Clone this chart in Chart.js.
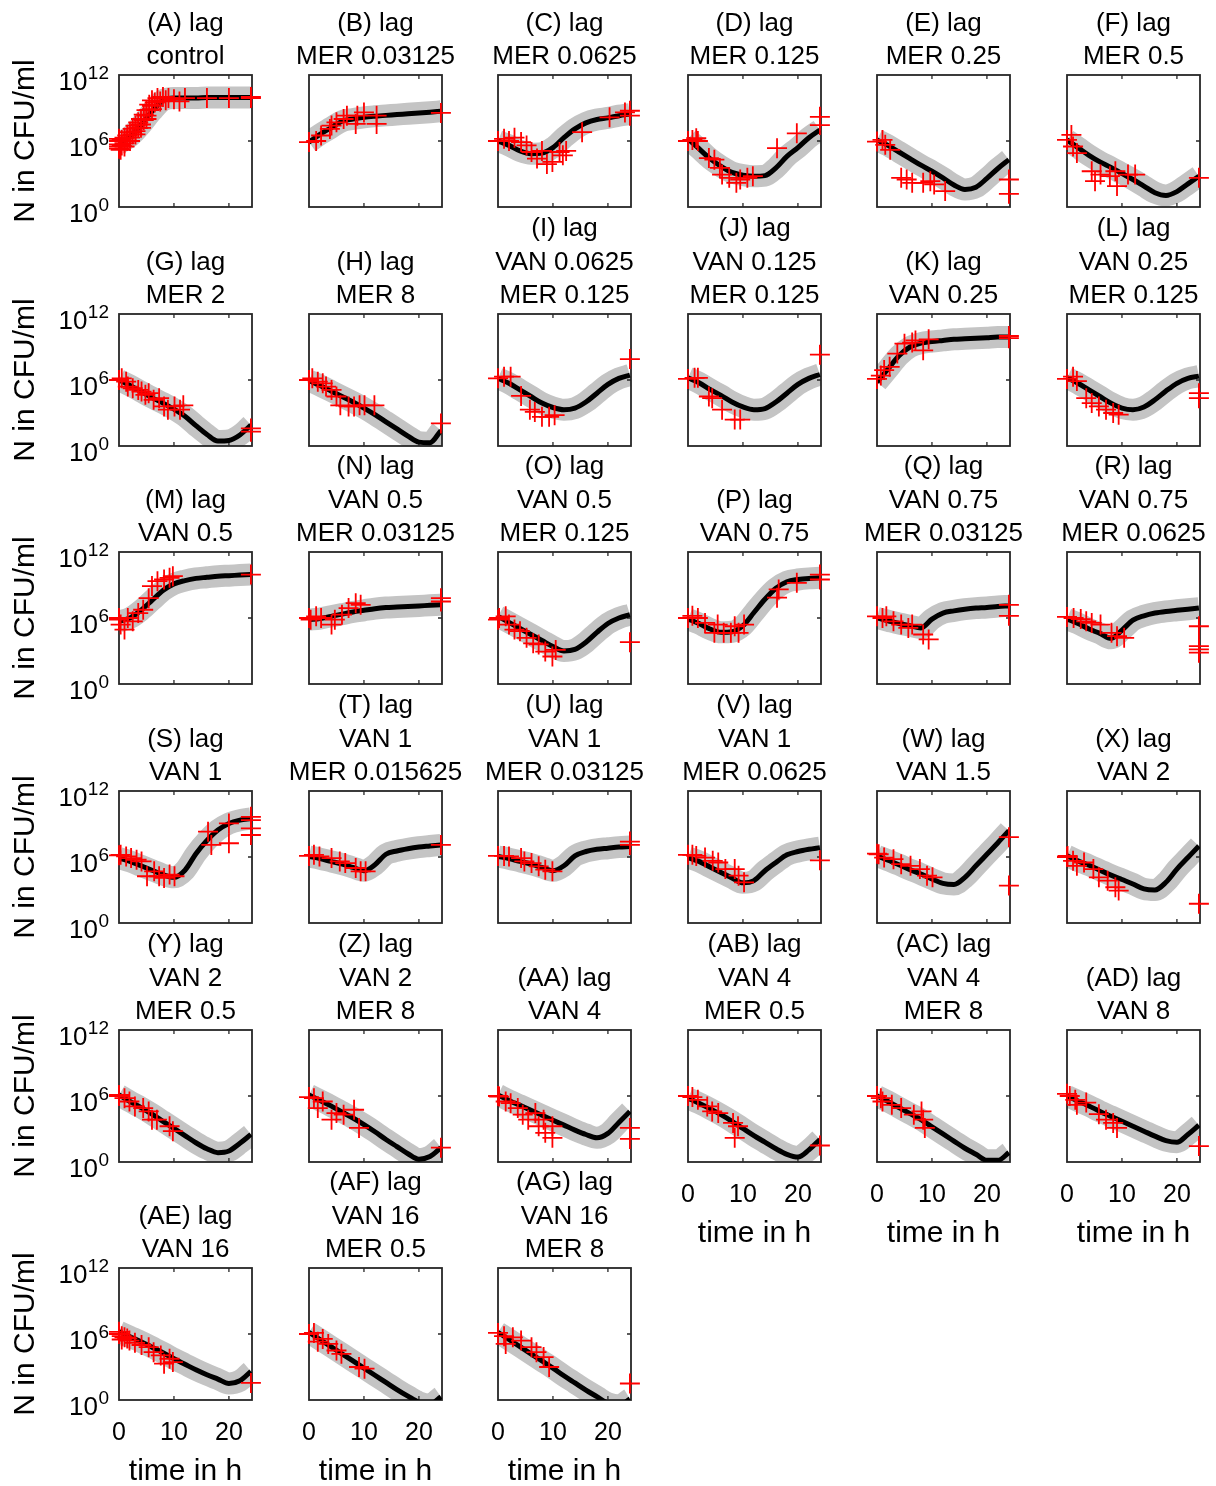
<!DOCTYPE html>
<html>
<head>
<meta charset="utf-8">
<title>lag model fits</title>
<script src="https://cdn.jsdelivr.net/npm/chart.js@4.4.1/dist/chart.umd.min.js"></script>
<style>
  html, body { margin: 0; padding: 0; background: #fff; }
  #grid { position: relative; width: 1216px; height: 1486px; overflow: hidden; background: #fff; }
  #grid canvas { position: absolute; }
</style>
</head>
<body>
<div id="grid"></div>
<script>
// ---- data (log10 of N in CFU/ml) ----
const panelTitles = [
  ['(A) lag', 'control'], ['(B) lag', 'MER 0.03125'], ['(C) lag', 'MER 0.0625'],
  ['(D) lag', 'MER 0.125'], ['(E) lag', 'MER 0.25'], ['(F) lag', 'MER 0.5'],
  ['(G) lag', 'MER 2'], ['(H) lag', 'MER 8'], ['(I) lag', 'VAN 0.0625', 'MER 0.125'],
  ['(J) lag', 'VAN 0.125', 'MER 0.125'], ['(K) lag', 'VAN 0.25'], ['(L) lag', 'VAN 0.25', 'MER 0.125'],
  ['(M) lag', 'VAN 0.5'], ['(N) lag', 'VAN 0.5', 'MER 0.03125'], ['(O) lag', 'VAN 0.5', 'MER 0.125'],
  ['(P) lag', 'VAN 0.75'], ['(Q) lag', 'VAN 0.75', 'MER 0.03125'], ['(R) lag', 'VAN 0.75', 'MER 0.0625'],
  ['(S) lag', 'VAN 1'], ['(T) lag', 'VAN 1', 'MER 0.015625'], ['(U) lag', 'VAN 1', 'MER 0.03125'],
  ['(V) lag', 'VAN 1', 'MER 0.0625'], ['(W) lag', 'VAN 1.5'], ['(X) lag', 'VAN 2'],
  ['(Y) lag', 'VAN 2', 'MER 0.5'], ['(Z) lag', 'VAN 2', 'MER 8'], ['(AA) lag', 'VAN 4'],
  ['(AB) lag', 'VAN 4', 'MER 0.5'], ['(AC) lag', 'VAN 4', 'MER 8'], ['(AD) lag', 'VAN 8'],
  ['(AE) lag', 'VAN 16'], ['(AF) lag', 'VAN 16', 'MER 0.5'], ['(AG) lag', 'VAN 16', 'MER 8']
];

const modelTimes = [0, 2, 4, 6, 8, 10, 12, 14, 16, 18, 20, 22, 24];

// model prediction per panel, at modelTimes
const modelLog10N = [
  [5.8, 6.4, 7.45, 8.7, 9.7, 9.9, 9.9, 9.9, 9.95, 9.95, 9.95, 9.95, 9.95],
  [5.9, 6.6, 7.2, 7.8, 8.0, 8.15, 8.25, 8.33, 8.4, 8.48, 8.55, 8.62, 8.7],
  [6.0, 5.6, 5.1, 4.85, 4.9, 5.4, 6.3, 7.1, 7.65, 7.95, 8.1, 8.3, 8.45],
  [6.2, 5.3, 4.4, 3.7, 3.15, 2.9, 2.8, 2.85, 3.55, 4.6, 5.4, 6.3, 7.0],
  [6.1, 5.6, 5.0, 4.4, 3.8, 3.25, 2.65, 2.0, 1.6, 1.8, 2.6, 3.5, 4.3],
  [6.1, 5.4, 4.7, 4.1, 3.6, 3.05, 2.5, 1.9, 1.3, 1.05, 1.4, 2.1, 2.8],
  [6.0, 5.5, 4.95, 4.4, 3.9, 3.35, 2.7, 1.85, 1.05, 0.45, 0.5, 1.0, 1.9],
  [5.95, 5.5, 5.0, 4.5, 4.0, 3.45, 2.85, 2.2, 1.55, 0.9, 0.35, 0.3, 1.4],
  [6.15, 5.7, 5.1, 4.5, 3.9, 3.5, 3.3, 3.45, 4.0, 4.8, 5.6, 6.15, 6.45],
  [6.2, 5.75, 5.15, 4.6, 4.0, 3.55, 3.3, 3.4, 4.0, 4.8, 5.6, 6.15, 6.5],
  [5.8, 7.0, 8.2, 9.0, 9.35, 9.5, 9.6, 9.7, 9.75, 9.8, 9.85, 9.9, 9.9],
  [6.2, 5.7, 5.1, 4.5, 3.9, 3.45, 3.3, 3.55, 4.2, 5.0, 5.7, 6.15, 6.35],
  [5.7, 6.0, 6.7, 7.6, 8.5, 9.1, 9.4, 9.6, 9.7, 9.8, 9.85, 9.9, 9.95],
  [5.85, 5.95, 6.15, 6.35, 6.55, 6.7, 6.85, 6.95, 7.0, 7.05, 7.1, 7.15, 7.2],
  [6.15, 5.6, 5.05, 4.5, 3.95, 3.4, 3.0, 3.15, 3.8, 4.7, 5.5, 6.0, 6.3],
  [5.9, 5.5, 5.0, 4.7, 4.75, 5.3, 6.5, 7.7, 8.7, 9.3, 9.5, 9.6, 9.65],
  [6.0, 5.75, 5.5, 5.3, 5.1, 5.9, 6.45, 6.65, 6.8, 6.9, 6.95, 7.05, 7.1],
  [5.9, 5.5, 5.0, 4.6, 4.15, 4.9, 5.8, 6.2, 6.45, 6.6, 6.7, 6.8, 6.9],
  [5.9, 5.6, 5.2, 4.8, 4.4, 4.15, 4.8, 6.3, 7.5, 8.45, 9.05, 9.35, 9.5],
  [6.05, 5.85, 5.6, 5.35, 5.05, 4.75, 5.3, 6.25, 6.55, 6.75, 6.9, 7.0, 7.1],
  [6.05, 5.85, 5.6, 5.35, 5.05, 4.75, 5.2, 6.1, 6.5, 6.7, 6.8, 6.9, 6.95],
  [5.95, 5.6, 5.1, 4.6, 4.1, 3.65, 3.85, 4.75, 5.5, 6.2, 6.5, 6.7, 6.85],
  [6.1, 5.7, 5.3, 4.85, 4.45, 4.0, 3.6, 3.5, 4.15, 5.2, 6.25, 7.3, 8.4],
  [6.1, 5.65, 5.25, 4.8, 4.35, 3.95, 3.55, 3.1, 3.0, 3.7, 4.9, 5.95, 7.0],
  [6.1, 5.5, 4.95, 4.35, 3.7, 3.05, 2.4, 1.75, 1.2, 0.85, 1.0, 1.7, 2.5],
  [6.1, 5.6, 5.1, 4.55, 4.0, 3.4, 2.75, 2.05, 1.4, 0.75, 0.25, 0.5, 1.3],
  [6.1, 5.6, 5.15, 4.7, 4.25, 3.8, 3.35, 2.9, 2.5, 2.2, 2.6, 3.6, 4.6],
  [5.8, 5.35, 4.85, 4.3, 3.7, 3.05, 2.4, 1.8, 1.2, 0.7, 0.45, 1.1, 2.05],
  [6.0, 5.5, 4.95, 4.4, 3.85, 3.2, 2.55, 1.9, 1.25, 0.7, 0.15, 0.15, 0.85],
  [6.0, 5.55, 5.1, 4.6, 4.15, 3.7, 3.25, 2.8, 2.35, 1.95, 1.8, 2.5, 3.35],
  [6.2, 5.75, 5.3, 4.8, 4.3, 3.75, 3.25, 2.75, 2.3, 1.9, 1.5, 1.75, 2.6],
  [6.15, 5.5, 4.85, 4.2, 3.55, 2.9, 2.25, 1.6, 0.95, 0.35, -0.2, -0.4, 0.3],
  [6.15, 5.5, 4.85, 4.2, 3.55, 2.9, 2.2, 1.55, 0.9, 0.3, -0.3, -0.5, 0.1]
];

// measured counts per panel: [time in h, log10 N]
const measuredPoints = [
  [[0,5.3],[0,5.7],[0,6.0],[0,5.5],[0,6.2],[0.3,5.2],[0.5,5.6],[0.5,6.1],[1,5.5],[1,5.8],[1,6.3],[1.5,6.0],[1.5,6.5],
   [2,6.0],[2,6.3],[2,6.8],[2.5,6.6],[2.5,7.1],[3,6.6],[3,6.9],[3,7.4],[3.5,7.2],[3.5,7.7],[4,7.2],[4,7.5],[4,8.0],
   [4.5,7.9],[4.5,8.4],[5,8.0],[5,8.3],[5,8.8],[5.5,8.8],[5.5,9.3],[6,8.9],[6,9.2],[6,9.7],[6.5,9.5],[7,9.9],
   [7.5,9.6],[8,10.0],[8.5,9.7],[9,9.9],[10,9.8],[11,9.6],[12,9.9],[16,9.9],[20,9.9],[24,10.0],[24,9.9]],
  [[0,5.9],[1.3,6.0],[2.2,6.5],[3.8,7.1],[4.1,7.4],[5,7.7],[6.3,8.0],[6.9,8.3],[8.5,7.55],[8.8,8.3],[10,8.6],[12.3,8.3],[12.3,7.55],[24,8.55]],
  [[0,6.0],[1.1,6.2],[2,6.0],[3,6.3],[4.2,5.9],[5.2,5.6],[6.1,5.0],[7.1,4.4],[8,5.1],[8.9,3.9],[9.9,4.1],[11.2,5.0],[11.8,4.7],[12.4,5.1],[15.3,6.8],[20.3,8.15],[23.1,8.6],[24,8.75],[24,8.3]],
  [[0,6.0],[0.8,6.1],[1.5,6.25],[1.8,6.0],[3.8,4.45],[4.8,4.3],[5.8,3.55],[6.2,2.95],[7.5,2.65],[8.8,2.2],[9.5,2.5],[10.8,2.65],[11.8,2.8],[16.2,5.35],[19.8,6.7],[24,8.2],[24,7.45]],
  [[0,5.95],[1,6.1],[1.5,5.65],[2.4,5.2],[4.4,2.65],[5.4,2.5],[6.4,2.2],[8.4,2.2],[9.7,2.35],[10.4,2.05],[12.4,1.45],[24,2.5],[24,1.2]],
  [[0,6.1],[0.8,6.55],[1.1,5.5],[1.8,4.9],[4.5,3.25],[5.1,2.35],[6.1,2.95],[7.8,2.8],[8.8,3.25],[9.1,1.9],[11.1,2.95],[12.4,2.95],[24,2.65]],
  [[0,6.0],[0.5,6.15],[1.3,5.85],[1.6,5.4],[2.5,5.25],[3.5,5.1],[4.1,4.95],[4.8,4.65],[5.4,4.8],[6.3,4.2],[7.3,4.35],[8.2,3.6],[8.9,3.3],[10.1,3.6],[11.1,3.3],[11.7,3.7],[24,1.6],[24,1.3]],
  [[0,6.0],[0.6,6.15],[1.6,5.85],[2.5,5.7],[3.1,5.4],[4.1,5.1],[5.0,4.5],[5.7,3.7],[7.2,3.6],[8.2,3.6],[9.2,3.7],[10.1,3.7],[11.9,3.7],[24,2.05]],
  [[0,6.15],[1.1,6.3],[2.3,6.3],[4.2,4.55],[5.8,3.3],[6.7,3.1],[8.0,2.65],[9.3,2.65],[10.3,2.8],[24,7.9]],
  [[0,6.1],[1.2,6.2],[1.8,6.2],[3.8,4.5],[4.4,4.35],[6.2,3.3],[8.5,2.4],[9.5,2.4],[24,8.3]],
  [[0,6.1],[0.7,6.4],[1.3,6.9],[2.3,7.2],[3.7,8.4],[5.0,9.3],[6.4,9.4],[7.0,9.6],[8.4,8.7],[9.4,9.7],[24,10.0],[24,9.8]],
  [[0,6.1],[1.1,6.3],[1.8,5.9],[3.5,4.35],[4.5,3.9],[5.8,3.6],[7.1,3.3],[8.4,3.0],[9.4,2.85],[24,4.8],[24,4.35]],
  [[0,6.0],[0,5.85],[0.3,5.4],[1,4.95],[1.6,6.0],[2.5,5.7],[3.5,6.45],[4.4,6.75],[5.4,7.8],[6.0,8.9],[7.0,9.35],[8.2,9.5],[9.2,9.65],[9.8,9.8],[24,9.95]],
  [[0,6.0],[0.3,5.85],[1.3,6.15],[2.2,6.0],[4.1,5.4],[4.7,5.85],[6.0,6.3],[7.2,6.9],[8.5,7.35],[9.4,7.2],[24,7.5],[24,7.8]],
  [[0,5.85],[0.2,6.0],[1.4,6.15],[2.0,5.4],[3.0,4.95],[4.0,4.8],[5.2,4.2],[6.4,3.7],[7.4,3.6],[8.6,2.95],[9.9,2.5],[10.5,3.1],[24,3.8]],
  [[0,6.0],[0.8,6.2],[1.8,6.0],[3.1,5.55],[4.8,4.65],[5.4,5.4],[6.5,4.65],[7.8,4.65],[8.5,5.25],[9.2,4.65],[10.2,5.4],[16.2,7.85],[16.5,8.6],[19.8,9.2],[24,9.95],[24,9.5]],
  [[0,6.15],[1.0,6.0],[1.7,6.15],[3.0,5.7],[4.4,5.4],[5.7,5.1],[6.4,5.4],[8.4,4.5],[9.4,4.05],[24,7.2],[24,6.2]],
  [[0,6.1],[1.2,6.0],[2.5,5.9],[3.5,5.7],[4.5,5.55],[6.1,5.4],[8.1,4.65],[9.1,4.35],[10.4,4.2],[24,5.25],[24,3.45],[24,3.15],[24,2.85]],
  [[0,6.15],[0.3,6.2],[1.3,6.05],[2.2,5.9],[3.2,5.75],[4.1,5.6],[5.1,4.25],[6.4,4.7],[7.3,4.25],[8.2,4.1],[9.2,4.4],[10.1,4.25],[16.2,8.3],[16.8,7.1],[20,9.05],[20,7.25],[24,9.35],[24,8.6],[24,9.65],[24,8.0]],
  [[0,6.1],[0.9,6.2],[1.9,6.05],[4.1,5.9],[5.6,5.6],[6.6,5.45],[8.5,5.0],[9.4,4.7],[10.3,4.7],[24,7.1]],
  [[0,6.1],[1.1,6.1],[2.0,6.05],[4.2,5.9],[4.8,5.6],[6.1,5.45],[7.4,5.15],[8.6,4.85],[9.9,4.7],[24,7.4],[24,7.1]],
  [[0,6.2],[0.8,6.2],[1.5,6.1],[3.1,5.95],[4.5,5.65],[5.5,5.5],[6.8,4.9],[8.5,4.9],[9.2,4.3],[10.2,3.7],[24,5.7]],
  [[0,6.3],[0.3,6.25],[1.3,5.95],[3.0,5.8],[4.4,5.35],[6.1,5.2],[7.8,4.9],[9.1,4.3],[10.1,4.15],[24,7.8],[24,3.4]],
  [[0,6.0],[0.1,6.1],[1.1,5.65],[1.8,5.2],[3.1,5.5],[4.8,4.9],[5.8,4.15],[7.4,3.85],[8.8,3.25],[9.4,2.95],[24,1.75]],
  [[0,6.0],[0,6.1],[1.0,5.8],[1.9,5.5],[2.9,5.05],[4.4,4.9],[5.4,4.6],[6.0,3.85],[6.9,3.85],[9.2,3.25],[9.8,2.8]],
  [[0,5.9],[0.9,5.8],[1.6,4.9],[2.5,5.5],[4.1,3.85],[5.0,4.45],[6.3,4.3],[8.2,4.75],[9.1,3.1],[24,1.3]],
  [[0,6.0],[0.2,5.95],[1.4,5.5],[2.3,5.35],[3.6,4.9],[4.5,4.3],[5.5,3.85],[6.8,4.45],[7.4,3.25],[8.3,3.85],[8.6,2.65],[9.9,2.2],[9.9,3.25],[24,3.1],[24,2.1]],
  [[0,6.0],[0.8,5.9],[1.8,5.65],[3.5,5.05],[4.4,4.6],[5.5,4.45],[8.2,3.55],[9.1,3.25],[8.5,2.2],[24,1.5]],
  [[0,6.0],[0.7,5.8],[1.0,5.5],[2.7,5.2],[4.4,4.9],[6.7,4.3],[8.1,4.6],[8.4,3.85],[8.7,3.1]],
  [[0,6.2],[0.5,6.0],[1.5,5.65],[1.8,5.2],[3.5,5.4],[5.8,4.35],[7.1,3.85],[8.4,3.55],[9.1,3.1],[24,1.45]],
  [[0,6.0],[0,6.2],[0.5,5.8],[0.5,5.5],[1.0,5.7],[1.5,5.6],[1.9,5.4],[2.9,5.2],[4.1,5.0],[5.4,4.8],[6.3,4.35],[7.6,4.05],[8.2,3.3],[9.2,3.75],[9.8,3.45],[24,1.55]],
  [[0,6.0],[0.9,6.1],[1.6,5.3],[2.5,5.55],[3.5,5.1],[5.0,4.5],[5.9,4.2],[9.1,3.0],[10.1,2.85]],
  [[0,6.1],[1.1,5.8],[1.4,5.1],[2.7,5.7],[4.2,5.4],[6.1,4.8],[7.0,4.35],[8.3,3.9],[9.3,3.0],[24,1.5]]
];

const xTicks = [0, 10, 20];
const yTickExponents = [0, 6, 12];
const xLabel = 'time in h';
const yLabel = 'N in CFU/ml';

// ---- layout ----
const COLS = 6;
const BOX_W = 133, BOX_H = 132;
const COL_LEFT = [119, 309, 498, 688, 877, 1067];
const ROW_TOP = [75, 314, 552, 791, 1030, 1268];
const PAD = { left: 119, right: 45, top: 115, bottom: 90 };
const FONT = '"Liberation Sans", Arial, Helvetica, sans-serif';
const AXIS_COLOR = '#262626';

const panelDecor = {
  id: 'panelDecor',
  // frame goes on after the grey band, under the line and the markers
  afterDatasetDraw(chart, args) {
    if (args.index !== 2) return;
    const { ctx, chartArea: a, scales: { x, y } } = chart;
    ctx.save();
    ctx.strokeStyle = AXIS_COLOR;
    ctx.lineWidth = 1.8;
    ctx.strokeRect(a.left, a.top, a.width, a.height);
    ctx.lineWidth = 1.3;
    ctx.beginPath();
    xTicks.slice(1).forEach(v => {
      const px = x.getPixelForValue(v);
      ctx.moveTo(px, a.bottom); ctx.lineTo(px, a.bottom - 4);
      ctx.moveTo(px, a.top); ctx.lineTo(px, a.top + 4);
    });
    yTickExponents.slice(1, -1).forEach(v => {
      const py = y.getPixelForValue(v);
      ctx.moveTo(a.left, py); ctx.lineTo(a.left + 4, py);
      ctx.moveTo(a.right, py); ctx.lineTo(a.right - 4, py);
    });
    ctx.stroke();
    ctx.restore();
  },
  afterDraw(chart, args, opts) {
    const { ctx, chartArea: a, scales: { x, y } } = chart;
    const cx = (a.left + a.right) / 2;
    ctx.save();
    ctx.fillStyle = '#000';
    ctx.textBaseline = 'middle';

    // title lines, last one sits just above the box
    ctx.font = `26px ${FONT}`;
    ctx.textAlign = 'center';
    const lines = opts.lines;
    lines.forEach((s, k) => ctx.fillText(s, cx, a.top - 18 - (lines.length - 1 - k) * 33.5));

    if (opts.showY) {
      yTickExponents.forEach(v => {
        const py = y.getPixelForValue(v);
        const sup = String(v);
        ctx.font = `19px ${FONT}`;
        const sw = ctx.measureText(sup).width;
        const right = a.left - 10;
        ctx.textAlign = 'right';
        ctx.fillText(sup, right, py - 1);
        ctx.font = `26px ${FONT}`;
        ctx.fillText('10', right - sw - 0.5, py + 8);
      });
      ctx.save();
      ctx.translate(a.left - 93, (a.top + a.bottom) / 2);
      ctx.rotate(-Math.PI / 2);
      ctx.font = `30px ${FONT}`;
      ctx.textAlign = 'center';
      ctx.fillText(yLabel, 0, 0);
      ctx.restore();
    }

    if (opts.showX) {
      ctx.font = `25px ${FONT}`;
      ctx.textAlign = 'center';
      xTicks.forEach(v => ctx.fillText(String(v), x.getPixelForValue(v), a.bottom + 33));
      ctx.font = `30px ${FONT}`;
      ctx.fillText(xLabel, cx, a.bottom + 72);
    }
    ctx.restore();
  }
};

const grid = document.getElementById('grid');

function buildPanel(i) {
  const row = Math.floor(i / COLS), col = i % COLS;
  const w = PAD.left + BOX_W + PAD.right;
  const h = PAD.top + BOX_H + PAD.bottom;
  const canvas = document.createElement('canvas');
  canvas.width = w; canvas.height = h;
  canvas.style.width = w + 'px'; canvas.style.height = h + 'px';
  canvas.style.left = (COL_LEFT[col] - PAD.left) + 'px';
  canvas.style.top = (ROW_TOP[row] - PAD.top) + 'px';
  grid.appendChild(canvas);

  const model = modelTimes.map((t, k) => ({ x: t, y: modelLog10N[i][k] }));
  const measured = measuredPoints[i].map(([t, v]) => ({ x: t, y: v }));

  new Chart(canvas, {
    type: 'line',
    data: {
      datasets: [
        {
          data: measured, showLine: false, order: 1, clip: false,
          pointStyle: 'cross', pointRadius: 10, pointBorderWidth: 1.8,
          pointBorderColor: '#ff0000', pointBackgroundColor: 'transparent'
        },
        {
          data: model, order: 2, clip: 0, pointRadius: 0,
          borderColor: '#000', borderWidth: 5, cubicInterpolationMode: 'monotone'
        },
        {
          data: model, order: 3, clip: 0, pointRadius: 0,
          borderColor: '#c4c4c4', borderWidth: 22, borderCapStyle: 'butt',
          cubicInterpolationMode: 'monotone'
        }
      ]
    },
    options: {
      responsive: false,
      animation: false,
      devicePixelRatio: 1,
      events: [],
      layout: { padding: PAD },
      scales: {
        x: { type: 'linear', min: 0, max: 24.2, display: false },
        y: { type: 'linear', min: 0, max: 12, display: false }
      },
      plugins: {
        legend: { display: false },
        tooltip: { enabled: false },
        panelDecor: {
          lines: panelTitles[i],
          showY: col === 0,
          showX: i + COLS >= panelTitles.length
        }
      }
    },
    plugins: [panelDecor]
  });
}

panelTitles.forEach((_, i) => buildPanel(i));
</script>
</body>
</html>
